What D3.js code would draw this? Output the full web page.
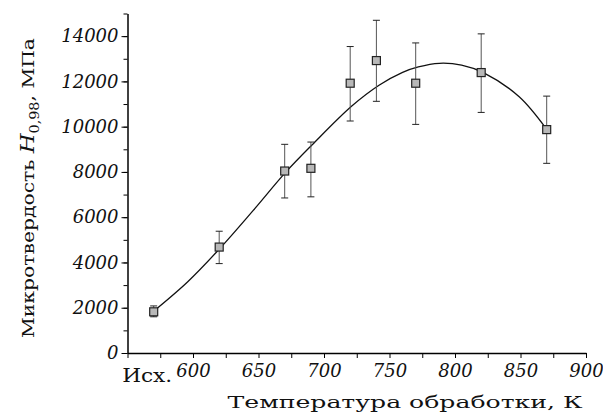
<!DOCTYPE html>
<html>
<head>
<meta charset="utf-8">
<script src="https://cdn.jsdelivr.net/npm/d3@7"></script>
<style>
  html, body { margin: 0; padding: 0; background: #fff; }
  svg { display: block; font-family: "DejaVu Serif", "Liberation Serif", serif; }
</style>
</head>
<body>
<svg id="chart" width="603" height="417"></svg>
<script>
// --- data ---
const temps    = [570, 620, 670, 690, 720, 740, 770, 820, 870];      // 570 = "Исх." (initial state)
const hardness = [1820, 4680, 8040, 8160, 11920, 12920, 11920, 12390, 9870];
const errLow   = [1600, 3950, 6850, 6900, 10250, 11120, 10100, 10630, 8380];
const errHigh  = [2080, 5380, 9220, 9320, 13540, 14700, 13700, 14100, 11350];

// smooth fit curve
const fitT = [570, 596, 621, 646, 671, 691, 721, 742, 760, 772, 788, 805, 822, 849, 870];
const fitH = [1850, 3150, 4650, 6300, 8000, 9200, 10900, 11830, 12400, 12640, 12800, 12720, 12380, 11320, 9880];

const xTicks = d3.range(550, 901, 25);
const xTickLabels = [600, 650, 700, 750, 800, 850, 900];
const initLabel = "Исх.";
const yMinorTicks = d3.range(0, 15001, 1000);
const yTickLabels = [0, 2000, 4000, 6000, 8000, 10000, 12000, 14000];

const FONT = "'DejaVu Serif', serif";
const svg = d3.select("#chart");
const x = d3.scaleLinear().domain([550, 900]).range([127.5, 586]);
const y = d3.scaleLinear().domain([0, 15000]).range([353, 13.5]);

const styleTicks = g => g.selectAll("text").attr("font-family", FONT)
  .style("font-style", "italic").attr("font-size", 18).attr("fill", "#111");

// y axis: minor ticks, then labelled majors
svg.append("g").attr("transform", "translate(127.5,0)")
  .call(d3.axisLeft(y).tickValues(yMinorTicks).tickSize(4).tickSizeOuter(0).tickFormat(""))
  .call(g => g.select(".domain").attr("stroke-width", 1.5));
svg.append("g").attr("transform", "translate(127.5,0)")
  .call(d3.axisLeft(y).tickValues(yTickLabels).tickSize(6).tickSizeOuter(0).tickPadding(3).tickFormat(d3.format("d")))
  .call(g => g.select(".domain").remove())
  .call(styleTicks);

// x axis
svg.append("g").attr("transform", "translate(0,353)")
  .call(d3.axisBottom(x).tickValues(xTicks).tickSize(5).tickSizeOuter(0).tickPadding(6)
    .tickFormat(d => xTickLabels.includes(d) ? d : ""))
  .call(g => g.select(".domain").attr("stroke-width", 1.5))
  .call(styleTicks);
svg.append("text").attr("x", x(565)).attr("y", 382).attr("text-anchor", "middle")
  .attr("font-family", FONT).attr("font-size", 18).attr("fill", "#111")
  .attr("textLength", 50).attr("lengthAdjust", "spacingAndGlyphs").text(initLabel);

// fit curve
const line = d3.line().x((d, i) => x(fitT[i])).y(d => y(d)).curve(d3.curveCatmullRom);
svg.append("path").attr("d", line(fitH)).attr("fill", "none").attr("stroke", "#111").attr("stroke-width", 1.3);

// error bars + markers
const pts = svg.append("g").selectAll("g").data(temps).join("g");
pts.append("line").attr("x1", d => x(d)).attr("x2", d => x(d))
  .attr("y1", (d, i) => y(errLow[i])).attr("y2", (d, i) => y(errHigh[i]))
  .attr("stroke", "#555").attr("stroke-width", 1);
[errLow, errHigh].forEach(arr => {
  pts.append("line").attr("x1", d => x(d) - 3.5).attr("x2", d => x(d) + 3.5)
    .attr("y1", (d, i) => y(arr[i])).attr("y2", (d, i) => y(arr[i]))
    .attr("stroke", "#222").attr("stroke-width", 1);
});
pts.append("rect").attr("x", d => x(d) - 4).attr("y", (d, i) => y(hardness[i]) - 4)
  .attr("width", 8).attr("height", 8).attr("fill", "#b8b8b8").attr("stroke", "#222").attr("stroke-width", 1.2);

// axis titles, fitted to the reference width
svg.append("text").attr("x", 405).attr("y", 408).attr("text-anchor", "middle")
  .attr("font-family", FONT).attr("font-size", 17).attr("fill", "#111")
  .attr("textLength", 355).attr("lengthAdjust", "spacingAndGlyphs").text("Температура обработки, К");

const yt = svg.append("text").attr("transform", "translate(34,188) rotate(-90)")
  .attr("text-anchor", "middle").attr("font-family", FONT).attr("font-size", 17).attr("fill", "#111")
  .attr("textLength", 300).attr("lengthAdjust", "spacingAndGlyphs");
yt.append("tspan").text("Микротвердость ");
yt.append("tspan").style("font-style", "italic").attr("font-size", 19).text("H");
yt.append("tspan").attr("font-size", 12).attr("dy", 5).text("0,98");
yt.append("tspan").attr("dy", -5).text(", МПа");
</script>
</body>
</html>
